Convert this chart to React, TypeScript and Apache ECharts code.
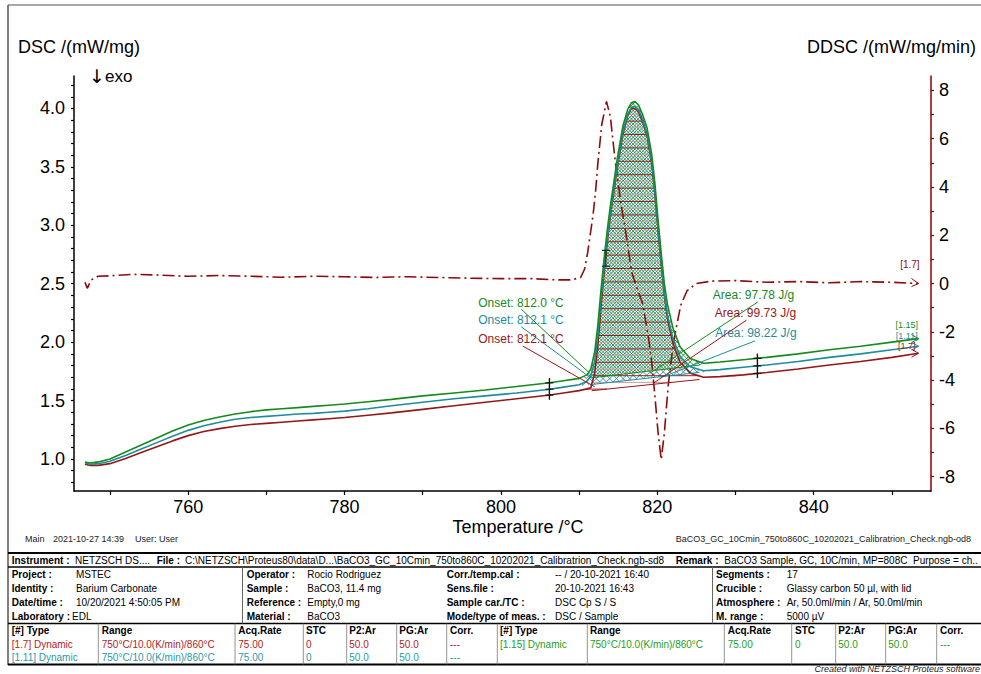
import React, { useEffect, useRef } from 'react';
import * as echarts from 'echarts';

// ---------------- data ----------------
const temperature = [
  746.8, 747.5, 748.5, 750, 752, 754, 756, 758, 760, 762, 764, 766, 768, 770, 772, 774, 776, 778, 780, 783,
  786, 790, 794, 798, 802, 806, 808, 810, 811, 811.5, 812, 812.4, 812.8, 813.2, 813.6, 814, 814.4, 814.9, 815.6, 816.2,
  816.7, 817.1, 817.6, 818.1, 818.7, 819.3, 819.7, 820.1, 820.5, 820.9, 821.3, 822, 822.9, 824.2, 825.9, 828, 831, 834, 838, 842,
  846, 850, 853.4,
];
// DSC [1.15] (green)
const dsc115 = [
  0.975, 0.965, 0.975, 1.0, 1.06, 1.12, 1.18, 1.24, 1.29, 1.33, 1.36, 1.385, 1.405, 1.42, 1.43, 1.44, 1.45, 1.46, 1.47, 1.49,
  1.51, 1.54, 1.565, 1.59, 1.62, 1.65, 1.67, 1.69, 1.72, 1.77, 1.92, 2.15, 2.45, 2.72, 2.96, 3.17, 3.35, 3.58, 3.85, 3.99,
  4.05, 4.06, 4.03, 3.95, 3.83, 3.6, 3.35, 3.04, 2.76, 2.5, 2.32, 2.12, 1.96, 1.86, 1.82, 1.83, 1.85, 1.87, 1.9, 1.935,
  1.965, 2.0, 2.03,
];
// DSC [1.11] (teal)
const dsc111 = [
  0.965, 0.955, 0.96, 0.98, 1.03, 1.085, 1.14, 1.195, 1.245, 1.285, 1.315, 1.34, 1.355, 1.365, 1.375, 1.385, 1.39, 1.4, 1.41, 1.43,
  1.455, 1.485, 1.515, 1.54, 1.565, 1.595, 1.615, 1.635, 1.665, 1.71, 1.84, 2.06, 2.36, 2.64, 2.89, 3.1, 3.29, 3.52, 3.8, 3.95,
  4.01, 4.02, 3.99, 3.91, 3.78, 3.54, 3.28, 2.97, 2.68, 2.42, 2.23, 2.03, 1.88, 1.79, 1.755, 1.765, 1.785, 1.805, 1.835, 1.87,
  1.9, 1.935, 1.965,
];
// DSC [1.7] (dark red)
const dsc17 = [
  0.955, 0.945, 0.945, 0.96, 1.005, 1.055, 1.105, 1.155, 1.2, 1.235, 1.26, 1.28, 1.295, 1.305, 1.315, 1.325, 1.335, 1.345, 1.355, 1.375,
  1.395, 1.425, 1.455, 1.485, 1.515, 1.545, 1.565, 1.585, 1.6, 1.61, 1.74, 1.98, 2.3, 2.6, 2.86, 3.08, 3.27, 3.5, 3.78, 3.94,
  4.0, 4.0, 3.97, 3.89, 3.76, 3.52, 3.26, 2.95, 2.66, 2.4, 2.2, 1.99, 1.83, 1.735, 1.7, 1.705, 1.72, 1.74, 1.77, 1.805,
  1.835, 1.87, 1.905,
];
// DDSC [1.7]
const ddscTemperature = [
  746.8, 747.1, 747.6, 748.5, 750, 753, 756, 760, 764, 768, 772, 776, 780, 784, 788, 792, 796, 800, 804, 807,
  809, 810.2, 810.7, 811.1, 811.5, 811.8, 812.1, 812.4, 812.9, 813.5, 814.0, 814.5, 814.8, 815.4, 816.1, 816.7, 817.4, 818.1, 818.9, 819.3,
  819.7, 820.1, 820.5, 820.9, 821.4, 822.0, 822.5, 823.0, 823.8, 825.0, 827, 830, 834, 838, 842, 846, 850, 853.4,
];
const ddsc17 = [
  0.05, -0.2, 0.15, 0.3, 0.32, 0.38, 0.35, 0.3, 0.33, 0.3, 0.26, 0.3, 0.28, 0.25, 0.28, 0.25, 0.22, 0.2, 0.2, 0.15,
  0.15, 0.25, 0.6, 1.3, 2.2, 2.9, 3.8, 5.0, 6.6, 7.55, 6.9, 5.4, 4.6, 3.2, 1.85, 0.5, -0.2, -0.8, -2.3, -3.3,
  -4.7, -6.2, -7.3, -6.2, -4.2, -2.6, -1.7, -0.9, -0.3, 0.0, 0.1, 0.12, 0.05, 0.08, 0.03, 0.08, 0.05, 0.0,
];

const xLabelValues = [760, 780, 800, 820, 840];
const xTickValues = [750, 760, 770, 780, 790, 800, 810, 820, 830, 840, 850];
const leftLabelValues = [1.0, 1.5, 2.0, 2.5, 3.0, 3.5, 4.0];
const leftTickValues = [
  0.8, 0.9, 1.0, 1.1, 1.2, 1.3, 1.4, 1.5, 1.6, 1.7, 1.8, 1.9, 2.0, 2.1, 2.2, 2.3, 2.4, 2.5, 2.6, 2.7,
  2.8, 2.9, 3.0, 3.1, 3.2, 3.3, 3.4, 3.5, 3.6, 3.7, 3.8, 3.9, 4.0, 4.1, 4.2,
];
const rightLabelValues = [-8, -6, -4, -2, 0, 2, 4, 6, 8];
const rightTickValues = [-8, -7, -6, -5, -4, -3, -2, -1, 0, 1, 2, 3, 4, 5, 6, 7, 8];

const integrationLimits = [806.2, 832.8];
const onsetLabels = ['Onset: 812.0 °C', 'Onset: 812.1 °C', 'Onset: 812.1 °C'];
const areaLabels = ['Area: 97.78 J/g', 'Area: 98.22 J/g', 'Area: 99.73 J/g'];
const curveTags = ['[1.15]', '[1.11]', '[1.7]'];
const ddscTag = '[1.7]';

// table texts
const instrumentRow = [
  ['Instrument :', 'NETZSCH DS....'],
  ['File :', 'C:\\NETZSCH\\Proteus80\\data\\D...\\BaCO3_GC_10Cmin_750to860C_10202021_Calibratrion_Check.ngb-sd8'],
  ['Remark :', 'BaCO3 Sample, GC, 10C/min, MP=808C  Purpose = ch..'],
];
const infoCol1 = [['Project :', 'MSTEC'], ['Identity :', 'Barium Carbonate'], ['Date/time :', '10/20/2021 4:50:05 PM'], ['Laboratory :', 'EDL']];
const infoCol2 = [['Operator :', 'Rocio Rodriguez'], ['Sample :', 'BaCO3, 11.4 mg'], ['Reference :', 'Empty,0 mg'], ['Material :', 'BaCO3']];
const infoCol3 = [['Corr./temp.cal :', '-- / 20-10-2021 16:40'], ['Sens.file :', '20-10-2021 16:43'], ['Sample car./TC :', 'DSC Cp S / S'], ['Mode/type of meas. :', 'DSC / Sample']];
const infoCol4 = [['Segments :', '17'], ['Crucible :', 'Glassy carbon 50 µl, with lid'], ['Atmosphere :', 'Ar, 50.0ml/min / Ar, 50.0ml/min'], ['M. range :', '5000 µV']];
const segHeader = ['[#] Type', 'Range', 'Acq.Rate', 'STC', 'P2:Ar', 'PG:Ar', 'Corr.'];
const segRowsLeft = [
  ['[1.7] Dynamic', '750°C/10.0(K/min)/860°C', '75.00', '0', '50.0', '50.0', '---'],
  ['[1.11] Dynamic', '750°C/10.0(K/min)/860°C', '75.00', '0', '50.0', '50.0', '---'],
];
const segRowsRight = [['[1.15] Dynamic', '750°C/10.0(K/min)/860°C', '75.00', '0', '50.0', '50.0', '---']];

// ---------------- styling ----------------
const FF = '"Liberation Sans", Arial, Helvetica, "DejaVu Sans", sans-serif';
const GREEN = '#178a1d';
const TEAL = '#1d8c9c';
const RED = '#951818';
const DRED = '#8b0c0c';
const curveColors = [GREEN, TEAL, RED];
const curves = [dsc115, dsc111, dsc17];

function interp(xs: number[], ys: number[], x: number) {
  for (let i = 0; i < xs.length - 1; i++) {
    if (x >= xs[i] && x <= xs[i + 1]) {
      const t = (x - xs[i]) / (xs[i + 1] - xs[i]);
      return ys[i] + t * (ys[i + 1] - ys[i]);
    }
  }
  return x < xs[0] ? ys[0] : ys[ys.length - 1];
}

function hatch(poly: number[][], angle: number, spacing: number, phase: number) {
  const dx = Math.cos(angle), dy = Math.sin(angle);
  const nx = -dy, ny = dx;
  let cmin = Infinity, cmax = -Infinity;
  for (const p of poly) {
    const c = nx * p[0] + ny * p[1];
    if (c < cmin) cmin = c;
    if (c > cmax) cmax = c;
  }
  const out: { k: number; x1: number; y1: number; x2: number; y2: number }[] = [];
  for (let k = Math.ceil((cmin - phase) / spacing); k * spacing + phase <= cmax; k++) {
    const c = k * spacing + phase;
    const us: number[] = [];
    for (let i = 0; i < poly.length; i++) {
      const a = poly[i], b = poly[(i + 1) % poly.length];
      const da = nx * a[0] + ny * a[1] - c, db = nx * b[0] + ny * b[1] - c;
      if ((da < 0) !== (db < 0)) {
        const t = da / (da - db);
        const px = a[0] + t * (b[0] - a[0]);
        const py = a[1] + t * (b[1] - a[1]);
        us.push(dx * px + dy * py);
      }
    }
    us.sort((u, v) => u - v);
    for (let j = 0; j + 1 < us.length; j += 2) {
      out.push({ k, x1: nx * c + dx * us[j], y1: ny * c + dy * us[j], x2: nx * c + dx * us[j + 1], y2: ny * c + dy * us[j + 1] });
    }
  }
  return out;
}

function seg(a: number[], b: number[], color: string, w = 1) {
  return { type: 'line', silent: true, shape: { x1: a[0], y1: a[1], x2: b[0], y2: b[1] }, style: { stroke: color, lineWidth: w } };
}
function txt(p: number[], text: string, color: string, size: number, align = 'left') {
  return {
    type: 'text', silent: true,
    style: { text, x: p[0], y: p[1], fill: color, fontSize: size, fontFamily: FF, textAlign: align, textVerticalAlign: 'middle' },
  };
}

function buildOption() {
  const pairs = (xs: number[], ys: number[]) => xs.map((x, i) => [x, ys[i]]);

  // hatched peak areas between each curve and its linear baseline
  const hatchSeries = {
    type: 'custom', xAxisIndex: 0, yAxisIndex: 0, z: 2, silent: true,
    data: [[815, 2]],
    renderItem: (_p: any, api: any) => {
      const children: any[] = [];
      const [a, b] = integrationLimits;
      const polys = curves.map((ys) => {
        const pts: number[][] = [[a, interp(temperature, ys, a)]];
        temperature.forEach((t, i) => { if (t > a && t < b) pts.push([t, ys[i]]); });
        pts.push([b, interp(temperature, ys, b)]);
        return pts.map((p) => api.coord(p));
      });
      const sp = 6.7;
      const dsp = sp / Math.SQRT2;
      [Math.PI / 4, -Math.PI / 4].forEach((ang) => {
        hatch(polys[1], ang, dsp, dsp / 2).forEach((s) => children.push(seg([s.x1, s.y1], [s.x2, s.y2], TEAL, 0.9)));
      });
      [Math.PI / 4, -Math.PI / 4].forEach((ang) => {
        hatch(polys[0], ang, dsp, 0).forEach((s) => children.push(seg([s.x1, s.y1], [s.x2, s.y2], GREEN, 0.9)));
      });
      hatch(polys[2], 0, sp, 0.5).forEach((s) =>
        children.push(seg([s.x1, s.y1], [s.x2, s.y2], s.k % 2 === 0 ? '#a51c1c' : '#d79a9a', 1)));
      return { type: 'group', children };
    },
  };

  const annotSeries = {
    type: 'custom', xAxisIndex: 0, yAxisIndex: 0, z: 5, silent: true,
    data: [[815, 2]],
    renderItem: (_p: any, api: any) => {
      const P = (x: number, y: number) => api.coord([x, y]);
      const ch: any[] = [];
      const onsetText = [[797.1, 2.333], [797.1, 2.188], [797.1, 2.023]];
      const onsetLead = [[802.6, 2.282, 811.37, 1.733], [802.6, 2.131, 811.58, 1.69], [802.8, 1.966, 812.0, 1.618]];
      const areaText = [[827.1, 2.402], [827.4, 2.075], [827.35, 2.246]];
      const areaLead = [[832.85, 2.344, 819.04, 1.733], [832.5, 2.011, 820.7, 1.703], [831.4, 2.188, 819.46, 1.647]];
      const tagPos = [[851.9, 2.145], [851.9, 2.055], [851.9, 1.965]];
      const [a, b] = integrationLimits;
      curves.forEach((ys, i) => {
        const c = curveColors[i];
        const ya = interp(temperature, ys, a), yb = interp(temperature, ys, b);
        const bl = (t: number) => ya + ((t - a) / (b - a)) * (yb - ya);
        ch.push(seg(P(811.6, bl(811.6)), P(825.4, bl(825.4)), c, 1));
        const ol = onsetLead[i];
        ch.push(seg(P(ol[0], ol[1]), P(ol[2], ol[3]), c, 1));
        const al = areaLead[i];
        ch.push(seg(P(al[0], al[1]), P(al[2], al[3]), c, 1));
        ch.push(txt(P(onsetText[i][0], onsetText[i][1]), onsetLabels[i], c, 12));
        ch.push(txt(P(areaText[i][0], areaText[i][1]), areaLabels[i], c, 12));
        const last = temperature.length - 1;
        const e = P(temperature[last], ys[last]);
        ch.push(seg([e[0] - 7, e[1] - 4], e, c, 1));
        ch.push(seg([e[0] - 7, e[1] + 4], e, c, 1));
        ch.push(txt(P(tagPos[i][0], tagPos[i][1]), curveTags[i], c, 9, 'center'));
      });
      integrationLimits.forEach((t) => {
        const vals = curves.map((ys) => interp(temperature, ys, t));
        const top = P(t, Math.max(...vals) + 0.04);
        const bot = P(t, Math.min(...vals) - 0.04);
        ch.push(seg([top[0], top[1]], [bot[0], bot[1]], '#111', 1.4));
        vals.forEach((v) => {
          const p = P(t, v);
          ch.push(seg([p[0] - 4, p[1]], [p[0] + 4, p[1]], '#111', 1.2));
        });
      });
      const m1 = P(813.43, 2.786), m2 = P(813.43, 2.65);
      ch.push(seg([m1[0] - 4, m1[1]], [m1[0] + 4, m1[1]], '#222', 1.2));
      ch.push(seg([m2[0] - 4, m2[1]], [m2[0] + 4, m2[1]], '#222', 1.2));
      ch.push(seg(m1, m2, '#222', 1));
      return { type: 'group', children: ch };
    },
  };

  const ddscAnnot = {
    type: 'custom', xAxisIndex: 0, yAxisIndex: 1, z: 5, silent: true,
    data: [[815, 0]],
    renderItem: (_p: any, api: any) => {
      const last = ddscTemperature.length - 1;
      const e = api.coord([ddscTemperature[last], ddsc17[last]]);
      const tp = api.coord([852.3, 0.78]);
      return {
        type: 'group',
        children: [
          seg([e[0] - 7, e[1] - 5], e, DRED, 1),
          seg([e[0] - 7, e[1] + 3], e, DRED, 1),
          txt(tp, ddscTag, DRED, 10, 'center'),
        ],
      };
    },
  };

  const dscLine = (name: string, ys: number[], color: string, z: number) => ({
    name, type: 'line', xAxisIndex: 0, yAxisIndex: 0, showSymbol: false, symbol: 'none', z,
    data: pairs(temperature, ys), lineStyle: { color, width: 1.6 }, silent: true,
  });

  // ---- graphic: titles, frame, footer and table ----
  const G: any[] = [];
  const gText = (x: number, y: number, text: string, o: any = {}) =>
    G.push({
      type: 'text', x, y, silent: true,
      style: {
        text, fill: o.fill || '#000', fontSize: o.size || 10, fontFamily: o.family || FF, fontWeight: o.bold ? 'bold' : 'normal',
        fontStyle: o.italic ? 'italic' : 'normal', textAlign: o.align || 'left', textVerticalAlign: 'middle',
      },
    });
  const gLine = (x1: number, y1: number, x2: number, y2: number, w = 1, c = '#000') =>
    G.push({ type: 'line', silent: true, shape: { x1, y1, x2, y2 }, style: { stroke: c, lineWidth: w } });

  gText(18, 47, 'DSC /(mW/mg)', { size: 18 });
  gText(89, 76, '↓', { size: 19, family: '"DejaVu Sans", sans-serif' });
  gText(105, 76, 'exo', { size: 17 });
  gText(976, 47, 'DDSC /(mW/mg/min)', { size: 18, align: 'right' });
  gText(518, 527, 'Temperature /°C', { size: 18, align: 'center' });

  // frame
  gLine(8, 5, 981, 5, 1.5, '#8a8a8a');
  gLine(8, 5, 8, 665, 1.5, '#555');

  // footer line of the plot
  gText(25, 539, 'Main', { size: 9, fill: '#222' });
  gText(53, 539, '2021-10-27 14:39', { size: 9, fill: '#222' });
  gText(135, 539, 'User: User', { size: 9, fill: '#222' });
  gText(971, 539, 'BaCO3_GC_10Cmin_750to860C_10202021_Calibratrion_Check.ngb-od8', { size: 9, fill: '#222', align: 'right' });

  // table
  gLine(8, 553, 981, 553, 2);
  gLine(8, 567, 981, 567, 1.3);
  gLine(8, 623.5, 981, 623.5, 1.3);
  gLine(8, 664.5, 981, 664.5, 2);
  [242.5, 712.5].forEach((x) => gLine(x, 567, x, 623.5, 1, '#666'));
  [98.3, 235, 303.3, 346.7, 396.7, 446.7, 497.3, 587.3, 724.3, 791.7, 835.7, 885.7, 936.7].forEach((x) =>
    gLine(x, 623.5, x, 664.5, 0.8, '#777'));

  const r0 = 560;
  gText(11.7, r0, instrumentRow[0][0], { bold: true });
  gText(75, r0, instrumentRow[0][1]);
  gText(156.7, r0, instrumentRow[1][0], { bold: true });
  gText(185, r0, instrumentRow[1][1]);
  gText(675.7, r0, instrumentRow[2][0], { bold: true });
  gText(724.3, r0, instrumentRow[2][1]);

  const rowY = [574, 588, 602, 616];
  const cols = [
    { d: infoCol1, lx: 11.7, vx: [76, 76, 76, 72] },
    { d: infoCol2, lx: 246.7, vx: [307.3, 307.3, 307.3, 307.3] },
    { d: infoCol3, lx: 446.7, vx: [555, 555, 555, 555] },
    { d: infoCol4, lx: 716, vx: [786.7, 786.7, 786.7, 786.7] },
  ];
  cols.forEach((c) => c.d.forEach((r, i) => {
    gText(c.lx, rowY[i], r[0], { bold: true });
    gText(c.vx[i], rowY[i], r[1]);
  }));

  const colL = [11.7, 101.7, 238.3, 306, 349.3, 399.3, 450];
  const colR = [500, 590, 727.7, 795, 838.3, 888.3, 940];
  segHeader.forEach((h, i) => {
    gText(colL[i], 630, h, { bold: true });
    gText(colR[i], 630, h, { bold: true });
  });
  const leftColors = ['#b02424', '#1f9aa8'];
  segRowsLeft.forEach((r, j) => r.forEach((v, i) => gText(colL[i], 644 + j * 13.7, v, { fill: leftColors[j] })));
  segRowsRight.forEach((r, j) => r.forEach((v, i) => gText(colR[i], 644 + j * 13.7, v, { fill: '#22a022' })));
  gText(980, 669, 'Created with NETZSCH Proteus software', { size: 9, italic: true, fill: '#222', align: 'right' });

  return {
    animation: false,
    backgroundColor: '#ffffff',
    grid: { left: 74, right: 50, top: 76, bottom: 183 },
    xAxis: {
      type: 'value', min: 745.4, max: 855,
      axisLine: { show: true, onZero: false, lineStyle: { color: '#000', width: 1.5 } },
      axisTick: { show: true, customValues: xTickValues, length: 4, lineStyle: { color: '#000', width: 1.2 } },
      axisLabel: { customValues: xLabelValues, fontSize: 18, color: '#000', fontFamily: FF, margin: 7 },
      splitLine: { show: false },
    },
    yAxis: [
      {
        type: 'value', position: 'left', min: 0.726, max: 4.278,
        axisLine: { show: true, onZero: false, lineStyle: { color: '#000', width: 1.5 } },
        axisTick: { show: true, customValues: leftTickValues, length: 3, lineStyle: { color: '#000', width: 1.2 } },
        axisLabel: { customValues: leftLabelValues, fontSize: 18, color: '#000', fontFamily: FF, margin: 9,
          formatter: (v: number) => v.toFixed(1) },
        splitLine: { show: false },
      },
      {
        type: 'value', position: 'right', min: -8.6, max: 8.6,
        axisLine: { show: true, onZero: false, lineStyle: { color: '#8b0000', width: 1.5 } },
        axisTick: { show: true, customValues: rightTickValues, length: 3, lineStyle: { color: '#8b0000', width: 1.2 } },
        axisLabel: { customValues: rightLabelValues, fontSize: 18, color: '#000', fontFamily: FF, margin: 8,
          formatter: (v: number) => String(v) },
        splitLine: { show: false },
      },
    ],
    series: [
      hatchSeries,
      {
        name: 'DDSC [1.7]', type: 'line', xAxisIndex: 0, yAxisIndex: 1, showSymbol: false, symbol: 'none', z: 3, silent: true,
        data: pairs(ddscTemperature, ddsc17),
        lineStyle: { color: DRED, width: 1.6, type: [12, 4, 2, 4] },
      },
      dscLine('DSC [1.7]', dsc17, RED, 4),
      dscLine('DSC [1.11]', dsc111, TEAL, 4),
      dscLine('DSC [1.15]', dsc115, GREEN, 4),
      annotSeries,
      ddscAnnot,
    ],
    graphic: { elements: G },
  };
}

export default function App() {
  const ref = useRef<HTMLDivElement>(null);
  useEffect(() => {
    const chart = echarts.init(ref.current!, null, { renderer: 'svg' });
    chart.setOption(buildOption() as any);
    return () => chart.dispose();
  }, []);
  return (
    <div
      ref={ref}
      style={{ position: 'fixed', left: 0, top: 0, width: 981, height: 674, background: '#fff' }}
    />
  );
}
